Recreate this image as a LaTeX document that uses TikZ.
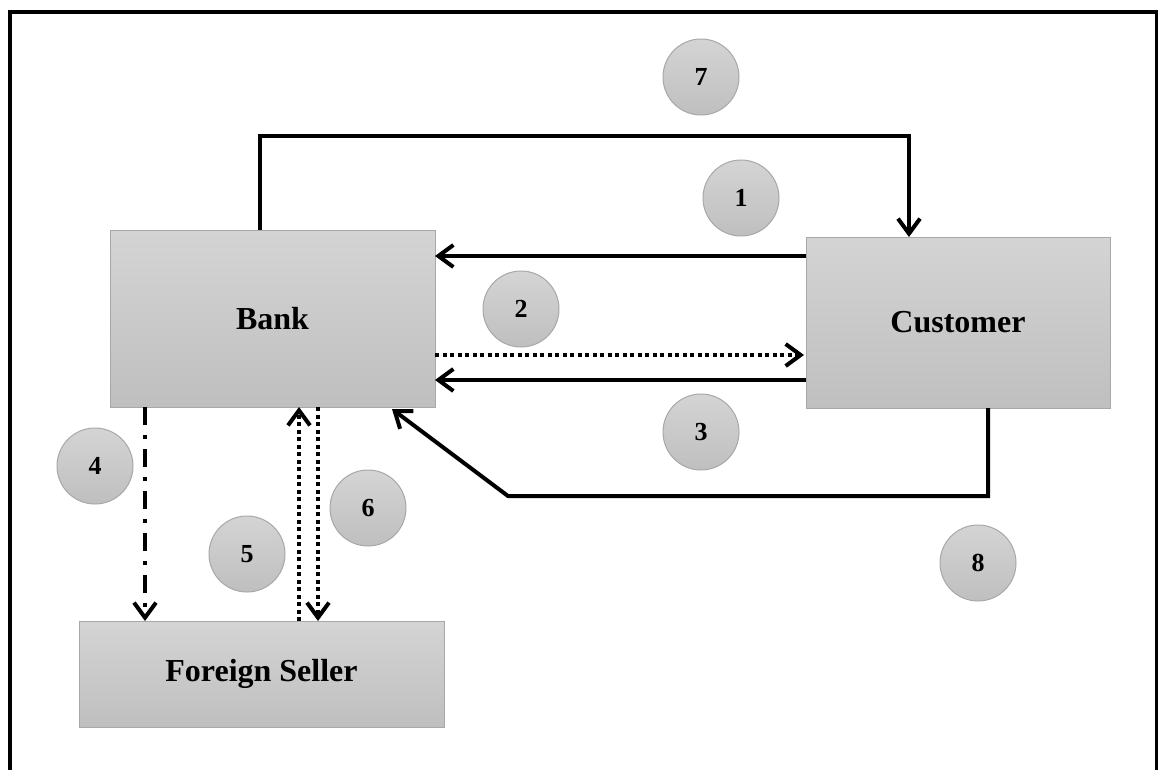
\documentclass[tikz,border=0pt]{standalone}
\usepackage{fontspec}
\setmainfont{Liberation Serif}
\usetikzlibrary{arrows.meta}
\definecolor{boxtop}{HTML}{D4D4D4}
\definecolor{boxbot}{HTML}{BFBFBF}
\definecolor{boxline}{HTML}{A8A8A8}
\begin{document}
\begin{tikzpicture}[x=1pt,y=-1pt,
  party/.style={draw=boxline,line width=1pt,top color=boxtop,bottom color=boxbot,
    inner sep=0pt,outer sep=0pt,font=\fontsize{32}{36}\selectfont\bfseries},
  stepno/.style={circle,draw=boxline,line width=1pt,top color=boxtop,bottom color=boxbot,
    minimum size=76pt,inner sep=0pt,font=\fontsize{26}{30}\selectfont\bfseries},
  flow/.style={line width=4pt,-{Straight Barb[length=15pt,width=22pt]}},
  dotflow/.style={flow,dash pattern=on 4pt off 3.5pt},
  dashdotflow/.style={flow,dash pattern=on 18pt off 10pt on 4pt off 10pt}]
\useasboundingbox (0,0) rectangle (1158,769);
% open frame (no bottom edge)
\draw[line width=4pt] (10,780) -- (10,12) -- (1157,12) -- (1157,780);

% parties
\node[party,minimum width=325pt,minimum height=177pt] (bank) at (272.5,318.5) {Bank};
\node[party,minimum width=304pt,minimum height=171pt] (cust) at (958,322.5) {Customer};
\node[party,minimum width=365pt,minimum height=106pt] (seller) at (261.5,674) {Foreign Seller};

% step numbers
\node[stepno] (n7) at (701,77) {7};
\node[stepno] (n1) at (741,198) {1};
\node[stepno] (n2) at (521,309) {2};
\node[stepno] (n3) at (701,432) {3};
\node[stepno] (n4) at (95,466) {4};
\node[stepno] (n6) at (368,508) {6};
\node[stepno] (n5) at (247,554) {5};
\node[stepno] (n8) at (978,563) {8};

% 7: bank over the top to customer
\draw[flow] ([xshift=150pt]bank.north west) -- ++(0pt,94pt) -| ([xshift=103pt]cust.north west);
% 1 and 3: customer to bank
\draw[flow] ([yshift=66.5pt]cust.west) -- ([yshift=66.5pt]cust.west -| bank.east);
\draw[flow] ([yshift=-57.5pt]cust.west) -- ([yshift=-57.5pt]cust.west -| bank.east);
% 2: bank to customer
\draw[dotflow,shorten >=2pt] ([yshift=-36.5pt]bank.east) -- ([yshift=-36.5pt]bank.east -| cust.west);
% 8: customer back round to bank
\coordinate (k1) at (988,496);
\coordinate (k2) at (508,496);
\draw[flow] ([xshift=30pt]cust.south) -- (k1) -- (k2) -- ([xshift=-43pt,yshift=-2pt]bank.south east);
% 4, 5, 6: bank and foreign seller
\draw[dashdotflow] ([xshift=35pt]bank.south west) -- ([xshift=35pt]bank.south west |- seller.north);
\draw[dotflow] ([xshift=37.5pt]seller.north) -- ([xshift=37.5pt]seller.north |- bank.south);
\draw[dotflow] ([xshift=45.5pt]bank.south) -- ([xshift=45.5pt]bank.south |- seller.north);
\end{tikzpicture}
\end{document}
